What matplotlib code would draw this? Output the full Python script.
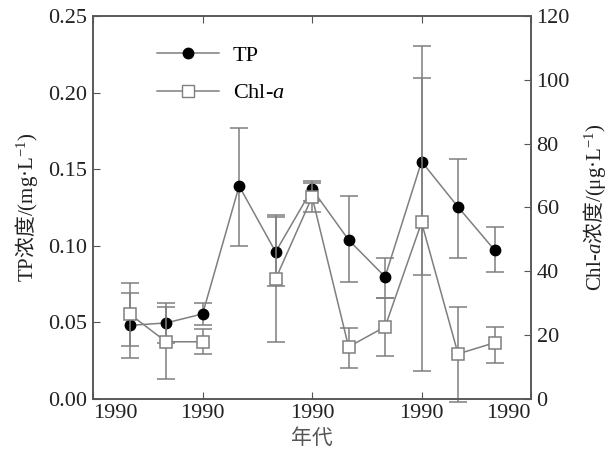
import numpy as np
import matplotlib.pyplot as plt
from matplotlib.lines import Line2D

plt.rcParams['font.family'] = ['Liberation Serif', 'Noto Sans CJK SC']
plt.rcParams['mathtext.fontset'] = 'custom'
plt.rcParams['mathtext.rm'] = 'Liberation Serif'
plt.rcParams['mathtext.it'] = 'Liberation Serif:italic'
plt.rcParams['mathtext.sf'] = 'Noto Sans CJK SC'

# ------------------------
# Datos
# ------------------------
muestras = np.arange(1, 12)
tp = [0.048, 0.0496, 0.0555, 0.139, 0.096, 0.137, 0.1038, 0.0797, 0.155, 0.1253, 0.0972]
tp_inf = [0.027, 0.0366, 0.048, 0.1, 0.074, 0.129, 0.076, 0.066, 0.081, 0.092, 0.083]
tp_sup = [0.069, 0.0627, 0.0627, 0.177, 0.1185, 0.142, 0.1325, 0.092, 0.2095, 0.1566, 0.112]

chl = [26.6, 17.9, 17.9, np.nan, 37.6, 63.3, 16.3, 22.6, 55.3, 14.1, 17.6]
chl_inf = [16.6, 6.3, 14.0, np.nan, 17.8, 58.6, 9.7, 13.3, 8.8, -0.9, 11.3]
chl_sup = [36.4, 28.8, 22.0, np.nan, 57.5, 67.8, 22.3, 31.7, 110.6, 28.8, 22.6]

ticks_x = [0, 3, 6, 9, 12]
etiquetas_x = ['1990'] * 5

# ------------------------
# Gráfico
# ------------------------
gris = '#7f7f7f'
borde = '#555555'
fs = 16

fig = plt.figure(figsize=(6.09, 4.59), dpi=100)
ax = fig.add_axes([0.153, 0.131, 0.719, 0.834])
ax2 = ax.twinx()

tp = np.array(tp)
err_tp = [tp - np.array(tp_inf), np.array(tp_sup) - tp]
ax.errorbar(muestras, tp, yerr=err_tp, fmt='none', ecolor=gris, elinewidth=1.1,
            capsize=6.3, capthick=1.1, clip_on=False, zorder=2)
ax.plot(muestras, tp, color=gris, lw=1.1, marker='o', ms=7.5, mfc='black',
        mec='black', zorder=3)

chl = np.array(chl)
err_chl = [chl - np.array(chl_inf), np.array(chl_sup) - chl]
ax2.errorbar(muestras, chl, yerr=err_chl, fmt='none', ecolor=gris, elinewidth=1.1,
             capsize=6.3, capthick=1.1, clip_on=False, zorder=2)
ax2.plot(muestras, chl, color=gris, lw=1.1, marker='s', ms=9, mfc='white',
         mec=gris, mew=1.1, zorder=3)

ax.set_xlim(0, 12)
ax.set_ylim(0, 0.25)
ax2.set_ylim(0, 120)
ax.set_xticks(ticks_x)
ax.set_xticklabels(etiquetas_x)
ax.set_yticks([0, 0.05, 0.10, 0.15, 0.20, 0.25])
ax.set_yticklabels(['0.00', '0.05', '0.10', '0.15', '0.20', '0.25'])
ax2.set_yticks([0, 20, 40, 60, 80, 100, 120])

lbls = ax.get_xticklabels()
lbls[0].set_horizontalalignment('left')
lbls[-1].set_horizontalalignment('right')

for a in (ax, ax2):
    for s in a.spines.values():
        s.set_color(borde)
        s.set_linewidth(1.1)
ax.tick_params(axis='x', direction='in', top=True, length=5, color=borde,
               labelsize=fs, pad=4, labelcolor='#222222')
ax.tick_params(axis='y', direction='in', length=5, color=borde, labelsize=fs, pad=4,
               labelcolor='#222222')
ax2.tick_params(axis='y', direction='in', length=5, color=borde, labelsize=fs, pad=4,
                labelcolor='#222222')

ax.set_xlabel('年代', fontsize=fs - 1, color='#555555', labelpad=4)
ax.set_ylabel('TP$\\mathsf{浓度}$/(mg·L$^{-1}$)', fontsize=fs - 1, labelpad=6,
              color='#222222')
ax2.set_ylabel('Chl-$\\it{a}\\mathsf{浓度}$/(μg·L$^{-1}$)', fontsize=fs - 1,
               rotation=90, labelpad=8, color='#222222')

h1 = Line2D([], [], color=gris, lw=1.1, marker='o', ms=7.5, mfc='black', mec='black')
h2 = Line2D([], [], color=gris, lw=1.1, marker='s', ms=9, mfc='white', mec=gris)
ax.legend([h1, h2], ['TP', 'Chl-$\\it{a}$'], loc='upper left', frameon=False,
          fontsize=fs, handlelength=2.8, labelspacing=0.75,
          bbox_to_anchor=(0.1, 0.975), handletextpad=0.6)

fig.savefig('out.png', dpi=100)
